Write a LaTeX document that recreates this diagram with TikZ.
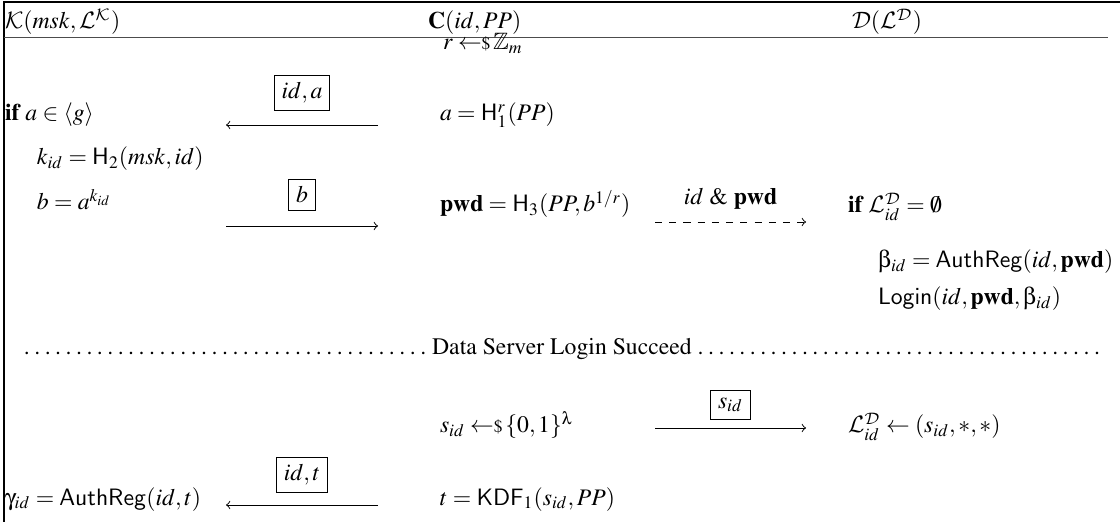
\documentclass[tikz,border=0pt]{standalone}
\usepackage[T1]{fontenc}
\usepackage{mathptmx}
\usepackage{helvet}
\usepackage{amssymb}
\usepackage[Symbol]{upgreek}
\DeclareMathAlphabet{\mathcal}{OMS}{cmsy}{m}{n}
\newcommand{\smpl}{\leftarrow\!\!{\scriptstyle\$}\,}
\tikzset{
  txt/.style={anchor=base west, inner sep=0pt, outer sep=0pt},
  msgbox/.style={draw, inner sep=3pt, line width=0.4pt},
  msg/.style={->, line width=0.4pt},
  frame/.style={line width=0.5pt},
}
\begin{document}
\begin{tikzpicture}[x=0.4219pt, y=-0.4219pt]
\useasboundingbox (0,0) rectangle (1120,522);
% frame
\coordinate (tl) at (4,2);
\coordinate (tr) at (1120,2);
\coordinate (bl) at (4,522);
\draw[frame] (tr) -- (tl) -- (bl);
% header
\node[txt] (hk) at (5,29) {$\mathcal{K}(msk,\mathcal{L}^{\mathcal{K}})$};
\node[txt] (hc) at (428,29) {$\mathbf{C}(id,PP)$};
\node[txt] (hd) at (852,29) {$\mathcal{D}(\mathcal{L}^{\mathcal{D}})$};
\coordinate (hl1) at (4,37.5);
\coordinate (hl2) at (1108,37.5);
\draw[line width=0.8pt, black!70] (hl1) -- (hl2);
\node[txt] (r) at (443,50) {$r \smpl \mathbb{Z}_m$};
% row 1
\node[txt] (ifa) at (5,121) {\textbf{if} $a\in\langle g\rangle$};
\node[txt] (ah) at (440,121) {$a=\mathsf{H}_1^r(PP)$};
\coordinate (m1s) at (378,125);
\coordinate (m1e) at (226,125);
\draw[msg] (m1s) -- (m1e) node[midway, above=6pt, msgbox] (b1) {$id,a$};
% row 2
\node[txt] (kid) at (37,165) {$k_{id}=\mathsf{H}_2(msk,id)$};
% row 3
\node[txt] (bb) at (37,210) {$b=a^{k_{id}}$};
\coordinate (m2s) at (226,226);
\coordinate (m2e) at (378,226);
\draw[msg] (m2s) -- (m2e) node[midway, above=6.5pt, msgbox] (b2) {$b$};
\node[txt] (pwd) at (440,212) {$\mathbf{pwd}=\mathsf{H}_3(PP,b^{1/r})$};
\coordinate (m3s) at (655,222);
\coordinate (m3e) at (806,222);
\draw[msg, dashed] (m3s) -- (m3e) node[midway, above=2pt] (l3) {$id$ \& $\mathbf{pwd}$};
\node[txt] (ifl) at (848,213) {\textbf{if} $\mathcal{L}^{\mathcal{D}}_{id}=\emptyset$};
\node[txt] (beta) at (878,268) {$\upbeta_{id}=\mathsf{AuthReg}(id,\mathbf{pwd})$};
\node[txt] (login) at (878,305) {$\mathsf{Login}(id,\mathbf{pwd},\upbeta_{id})$};
% separator
\node[txt] (sep) at (18,355) {\makebox[459pt]{\dotfill Data Server Login Succeed\dotfill}};
% row s
\node[txt] (sid) at (440,433) {$s_{id}\smpl\{0,1\}^{\uplambda}$};
\coordinate (m4s) at (655,428);
\coordinate (m4e) at (806,428);
\draw[msg] (m4s) -- (m4e) node[midway, above=3.5pt, msgbox] (b4) {$s_{id}$};
\node[txt] (ld) at (848,433) {$\mathcal{L}^{\mathcal{D}}_{id}\leftarrow(s_{id},*,*)$};
% row t
\node[txt] (gam) at (5,505) {$\upgamma_{id}=\mathsf{AuthReg}(id,t)$};
\coordinate (m5s) at (378,505);
\coordinate (m5e) at (226,505);
\draw[msg] (m5s) -- (m5e) node[midway, above=5pt, msgbox] (b5) {$id,t$};
\node[txt] (tk) at (440,505) {$t=\mathsf{KDF}_1(s_{id},PP)$};
\end{tikzpicture}
\end{document}
